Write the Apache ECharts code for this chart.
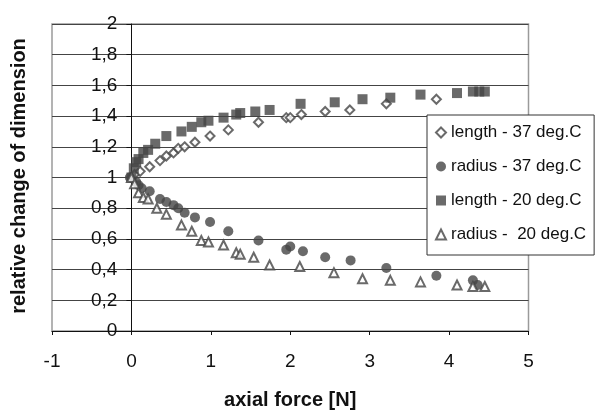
<!DOCTYPE html>
<html><head><meta charset="utf-8">
<script src="https://cdn.jsdelivr.net/npm/echarts@6/dist/echarts.min.js"></script>
<style>html,body{margin:0;padding:0;background:#fff}#c{width:602px;height:413px}</style>
</head><body><div id="c"></div>
<script>
const seriesNames = ['length - 37 deg.C', 'radius - 37 deg.C', 'length - 20 deg.C', 'radius -  20 deg.C'];
const xTitle = 'axial force [N]';
const yTitle = 'relative change of dimension';
const xTicks = [-1, 0, 1, 2, 3, 4, 5];
const yTicks = [0, 0.2, 0.4, 0.6, 0.8, 1, 1.2, 1.4, 1.6, 1.8, 2];

const length37X = [0.0, 0.04, 0.11, 0.23, 0.36, 0.44, 0.53, 0.59, 0.67, 0.80, 0.99, 1.22, 1.60, 1.95, 2.0, 2.14, 2.44, 2.75, 3.21, 3.84];
const length37Y = [1.0, 1.02, 1.04, 1.07, 1.11, 1.14, 1.16, 1.19, 1.20, 1.23, 1.27, 1.31, 1.36, 1.39, 1.39, 1.41, 1.43, 1.44, 1.48, 1.51];

const radius37X = [-0.02, 0.06, 0.09, 0.13, 0.23, 0.36, 0.44, 0.53, 0.59, 0.67, 0.80, 0.99, 1.22, 1.60, 1.95, 2.0, 2.16, 2.44, 2.76, 3.21, 3.84, 4.30, 4.36];
const radius37Y = [1.0, 0.97, 0.95, 0.93, 0.91, 0.86, 0.84, 0.82, 0.80, 0.77, 0.74, 0.71, 0.65, 0.59, 0.53, 0.55, 0.52, 0.48, 0.46, 0.41, 0.36, 0.33, 0.30];

const length20X = [0.0, 0.03, 0.06, 0.09, 0.15, 0.21, 0.30, 0.44, 0.63, 0.76, 0.88, 0.97, 1.16, 1.32, 1.37, 1.56, 1.74, 2.13, 2.56, 2.91, 3.26, 3.64, 4.10, 4.30, 4.38, 4.45];
const length20Y = [1.0, 1.06, 1.10, 1.12, 1.16, 1.18, 1.22, 1.27, 1.30, 1.33, 1.36, 1.37, 1.39, 1.41, 1.42, 1.43, 1.44, 1.48, 1.49, 1.51, 1.52, 1.54, 1.55, 1.56, 1.56, 1.56];

const radius20X = [0.0, 0.04, 0.09, 0.15, 0.21, 0.32, 0.44, 0.63, 0.76, 0.88, 0.97, 1.16, 1.32, 1.37, 1.54, 1.74, 2.12, 2.55, 2.91, 3.26, 3.64, 4.10, 4.30, 4.45];
const radius20Y = [1.0, 0.96, 0.90, 0.87, 0.86, 0.80, 0.76, 0.69, 0.65, 0.59, 0.58, 0.56, 0.51, 0.50, 0.48, 0.43, 0.42, 0.38, 0.34, 0.33, 0.32, 0.30, 0.29, 0.29];

const pair = (xs, ys) => xs.map((x, i) => [x, ys[i]]);
const MC = '#454545';
const FONT = 'Liberation Sans, Arial, sans-serif';
const GRID_LEFT = 52, GRID_RIGHT = 73.5;
const plotW = 602 - GRID_LEFT - GRID_RIGHT;
// shift the y axis so that it sits at x = 0 of the x scale
const yAxisOffset = -plotW * (0 - xTicks[0]) / (xTicks[xTicks.length - 1] - xTicks[0]);

const chart = echarts.init(document.getElementById('c'), null, {renderer: 'canvas'});
chart.setOption({
  animation: false,
  backgroundColor: '#fff',
  grid: {left: GRID_LEFT, top: 24, right: GRID_RIGHT, bottom: 82, containLabel: false, outerBoundsMode: 'none',
         show: true, borderColor: '#9a9a9a', borderWidth: 1.5, backgroundColor: 'transparent'},
  graphic: [{
    type: 'text', x: 19, y: 176, rotation: Math.PI / 2,
    style: {text: yTitle, fontFamily: FONT, fontSize: 20, fontWeight: 'bold', fill: '#111',
            align: 'center', verticalAlign: 'middle'}
  }],
  legend: {
    orient: 'vertical', left: 427, top: 115,
    padding: [9, 8, 12, 8], itemGap: 17, itemWidth: 10, itemHeight: 10,
    backgroundColor: '#fff', borderColor: '#333', borderWidth: 1, borderRadius: 0,
    textStyle: {fontFamily: FONT, fontSize: 17, color: '#111'},
    data: seriesNames
  },
  xAxis: {
    type: 'value', min: xTicks[0], max: xTicks[xTicks.length - 1], interval: 1,
    axisLine: {onZero: true, lineStyle: {color: '#111', width: 1}},
    axisTick: {show: true, length: 4, lineStyle: {color: '#111'}},
    axisLabel: {fontFamily: FONT, fontSize: 19, color: '#111', margin: 21},
    splitLine: {show: false},
    name: xTitle, nameLocation: 'middle', nameGap: 59,
    nameTextStyle: {fontFamily: FONT, fontSize: 20, fontWeight: 'bold', color: '#111'}
  },
  yAxis: {
    type: 'value', min: yTicks[0], max: yTicks[yTicks.length - 1], interval: 0.2,
    position: 'left', offset: yAxisOffset,
    axisLine: {show: true, onZero: false, lineStyle: {color: '#111', width: 1}},
    axisTick: {show: true, length: 5, lineStyle: {color: '#111'}},
    axisLabel: {fontFamily: FONT, fontSize: 19, color: '#111', margin: 14,
      formatter: v => String(Math.round(v * 10) / 10).replace('.', ',')},
    splitLine: {show: true, lineStyle: {color: '#444', width: 1}}
  },
  series: [
    {name: seriesNames[0], type: 'scatter', data: pair(length37X, length37Y), symbol: 'diamond', symbolSize: 9,
     itemStyle: {color: '#fff', borderColor: MC, borderWidth: 2}},
    {name: seriesNames[1], type: 'scatter', data: pair(radius37X, radius37Y), symbol: 'circle', symbolSize: 10,
     itemStyle: {color: MC}},
    {name: seriesNames[2], type: 'scatter', data: pair(length20X, length20Y), symbol: 'rect', symbolSize: 10,
     itemStyle: {color: MC}},
    {name: seriesNames[3], type: 'scatter', data: pair(radius20X, radius20Y), symbol: 'triangle', symbolSize: 9,
     itemStyle: {color: '#fff', borderColor: MC, borderWidth: 2}}
  ]
});
</script></body></html>
